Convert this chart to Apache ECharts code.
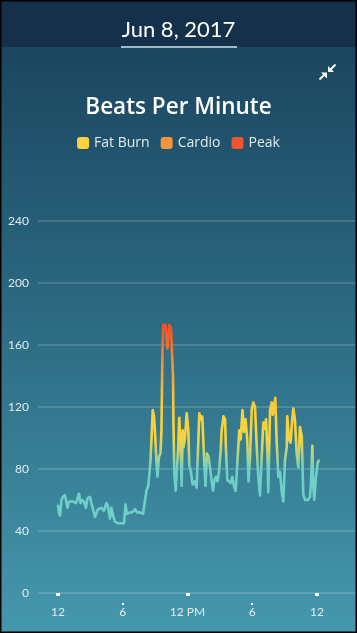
<!DOCTYPE html>
<html>
<head>
<meta charset="utf-8">
<script src="https://cdn.jsdelivr.net/npm/echarts@6/dist/echarts.min.js"></script>
<style>
html,body{margin:0;padding:0;background:#000;}
#chart{width:357px;height:633px;}
</style>
</head>
<body>
<div id="chart"></div>
<script>
// ---- data (hour of day, beats per minute) ----
const hours = [0.00,0.09,0.19,0.32,0.46,0.65,0.79,0.88,1.02,1.20,1.39,1.67,1.95,2.09,2.22,2.41,2.59,2.73,2.97,3.10,
  3.24,3.43,3.71,4.03,4.26,4.49,4.63,4.82,4.96,5.10,5.28,5.56,5.84,6.12,6.26,6.39,6.67,6.86,7.14,7.32,
  7.60,7.88,8.06,8.20,8.37,8.48,8.57,8.67,8.78,8.90,8.99,9.13,9.22,9.36,9.50,9.59,9.68,9.76,9.96,10.15,
  10.32,10.47,10.59,10.66,10.70,10.78,10.91,11.03,11.15,11.24,11.35,11.46,11.56,11.63,11.77,11.93,12.08,12.17,12.30,12.48,
  12.70,12.85,13.10,13.23,13.37,13.53,13.67,13.81,13.95,14.09,14.24,14.37,14.50,14.64,14.78,14.92,15.08,15.17,15.34,15.48,
  15.57,15.69,15.85,16.01,16.15,16.31,16.47,16.64,16.80,16.93,17.10,17.24,17.38,17.54,17.66,17.79,17.95,18.10,18.26,18.42,
  18.56,18.72,18.88,19.03,19.18,19.28,19.40,19.49,19.65,19.81,19.90,20.02,20.14,20.27,20.42,20.57,20.73,20.88,21.04,21.20,
  21.25,21.41,21.55,21.71,21.81,21.96,22.12,22.27,22.43,22.59,22.73,22.89,23.17,23.35,23.45,23.57,23.66,23.75,23.88,24.07,
  24.22];
const bpm = [57,52,50,60,62,63,62,55,59,58,59,58,64,58,60,59,55,61,62,58,
  59,49,54,55,53,58,56,48,55,50,46,45,45,45,57,51,52,52,54,52,
  52,51,51,66,69,68,85,100,118,114,104,84,75,88,90,105,155,173,173,158,
  173,171,172,140,110,77,66,67,95,113,97,69,105,94,100,116,105,82,79,70,
  72,68,116,112,114,88,69,90,88,81,72,66,73,75,72,78,92,105,114,112,
  92,73,74,71,75,69,66,67,105,99,118,104,112,99,72,86,118,123,120,94,
  75,63,88,110,106,112,92,65,118,123,115,120,126,97,75,78,66,59,86,94,
  114,99,97,112,119,112,90,81,107,101,64,60,60,62,71,95,69,60,73,84,
  86];
const yTicks = [0, 40, 80, 120, 160, 200, 240];
const xMajorTicks = [0, 12, 24];
const xMinorTicks = [6, 18];
const xTickLabels = {0: '12', 6: '6', 12: '12 PM', 18: '6', 24: '12'};
const zoneNames = ['Fat Burn', 'Cardio', 'Peak'];
const zoneColors = ['#f8d443', '#f3963b', '#ee5631'];
const dateText = 'Jun 8, 2017';
const titleText = 'Beats Per Minute';

const seriesData = hours.map((h, i) => [h, bpm[i]]);
const FONT = 'Lato, "Open Sans", sans-serif';
const FONT2 = '"Open Sans", Lato, sans-serif';

const chart = echarts.init(document.getElementById('chart'), null, {renderer: 'canvas'});

const zoneSeries = zoneNames.map((n, i) => ({
  name: n, type: 'line', data: [],
  itemStyle: {color: zoneColors[i]}, lineStyle: {color: zoneColors[i]}
}));

const xAxisBase = {
  type: 'value', min: -1.85, max: 27.71, position: 'bottom', offset: 10,
  axisLine: {show: false}, splitLine: {show: false}
};

chart.setOption({
  backgroundColor: new echarts.graphic.LinearGradient(0, 0, 0, 1, [
    {offset: 0, color: '#173650'},
    {offset: 0.08, color: '#1c4660'},
    {offset: 0.5, color: '#2c6a82'},
    {offset: 1, color: '#4598ad'}
  ]),
  animation: false,
  title: [
    {text: dateText, left: 'center', top: 14,
     textStyle: {color: '#ffffff', fontSize: 22, fontWeight: 'normal', fontFamily: FONT}},
    {text: titleText, left: 'center', top: 91,
     textStyle: {color: '#ffffff', fontSize: 22.5, fontWeight: 600, fontFamily: FONT2}}
  ],
  legend: {
    data: zoneNames, top: 131, left: 'center', icon: 'roundRect',
    itemWidth: 12, itemHeight: 12, itemGap: 11,
    textStyle: {color: '#e3ebef', fontSize: 14, fontFamily: FONT2}
  },
  grid: {left: 38, right: 0, top: 221, bottom: 40},
  xAxis: [
    Object.assign({}, xAxisBase, {
      axisTick: {show: true, customValues: xMajorTicks, length: 3, lineStyle: {color: '#ffffff', width: 4}},
      axisLabel: {show: true, customValues: [0, 6, 12, 18, 24], margin: 3,
        color: '#e3ebef', fontSize: 12, fontFamily: FONT,
        formatter: v => xTickLabels[Math.round(v)] || ''}
    }),
    Object.assign({}, xAxisBase, {
      axisTick: {show: true, customValues: xMinorTicks, length: 2, lineStyle: {color: '#ffffff', width: 2}},
      axisLabel: {show: false}
    })
  ],
  yAxis: {
    type: 'value', min: 0, max: 240, interval: 40,
    axisLine: {show: false}, axisTick: {show: false},
    axisLabel: {color: '#e3ebef', fontSize: 12, fontFamily: FONT, margin: 9},
    splitLine: {show: true, lineStyle: {color: 'rgba(255,255,255,0.2)', width: 1.5}}
  },
  visualMap: {
    show: false, type: 'continuous', seriesIndex: 0, dimension: 1, min: 0, max: 180,
    inRange: {color: ['#6fcfc6','#6fcfc6','#6fcfc6','#6fcfc6','#6fcfc6','#6fcfc6','#6fcfc6','#6fcfc6','#6fcfc6',
      '#b8d27e','#f7d43f','#f8d23b','#f9cb39','#f8bc36','#f6a434','#f48b33','#f2702f','#ef562b','#ee4a29']}
  },
  series: [
    {type: 'line', name: 'BPM', data: seriesData, showSymbol: false, xAxisIndex: 0,
     lineStyle: {width: 2.6, join: 'round'}, z: 5}
  ].concat(zoneSeries),
  graphic: [
    {type: 'rect', shape: {x: 0, y: 0, width: 357, height: 47}, style: {fill: '#15304a'}, z: -1},
    {type: 'rect', shape: {x: 121, y: 46, width: 116, height: 2}, style: {fill: '#a3b9c6'}},
    // compress icon
    {type: 'polyline', shape: {points: [[335.5, 64.5], [330, 70]]}, style: {stroke: '#fff', lineWidth: 2}},
    {type: 'polygon', shape: {points: [[328, 66], [328, 72], [334, 72]]}, style: {fill: '#fff'}},
    {type: 'polyline', shape: {points: [[319.5, 79.5], [325, 74]]}, style: {stroke: '#fff', lineWidth: 2}},
    {type: 'polygon', shape: {points: [[327, 72.5], [327, 78.5], [321, 72.5]]}, style: {fill: '#fff'}},
    {type: 'rect', shape: {x: 0.5, y: 0.5, width: 356, height: 632}, style: {fill: null, stroke: '#000', lineWidth: 2}, z: 100}
  ]
});
</script>
</body>
</html>
